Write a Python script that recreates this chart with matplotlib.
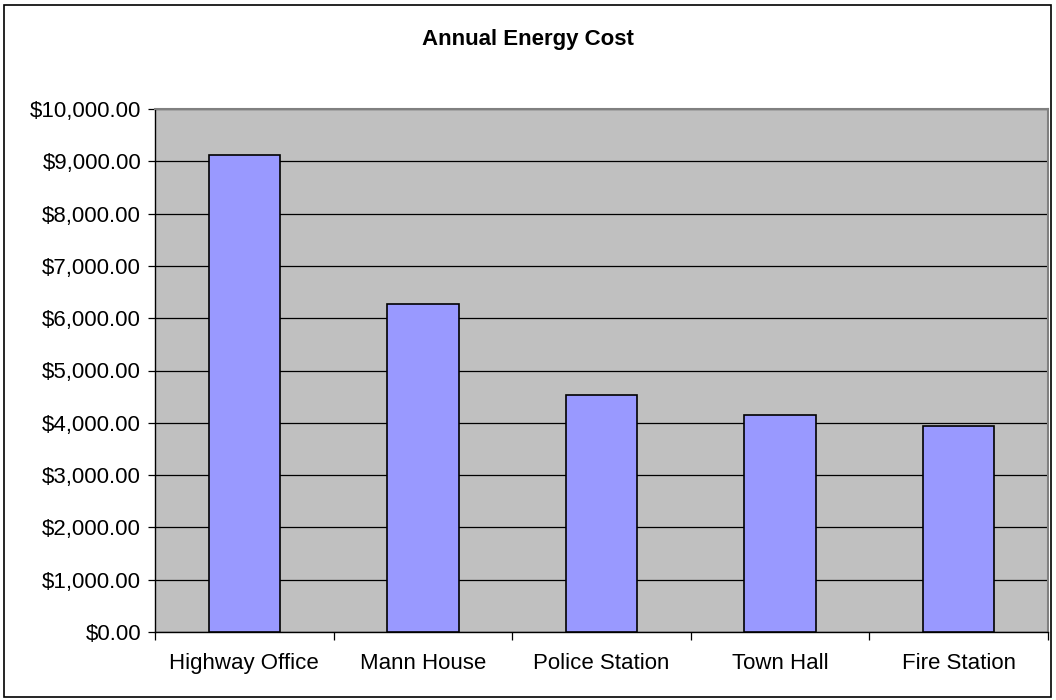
import numpy as np
import matplotlib.pyplot as plt
from matplotlib.patches import Rectangle
from matplotlib.ticker import FuncFormatter, FixedLocator

plt.rcParams['font.family'] = ['Liberation Sans', 'DejaVu Sans']

buildings = ["Highway Office", "Mann House", "Police Station", "Town Hall", "Fire Station"]
cost = [9130, 6280, 4540, 4140, 3930]

fig = plt.figure(figsize=(10.56, 7), dpi=100)
ax = fig.add_axes([155/1056, 1-632/700, (1048-155)/1056, (632-109)/700])

x = np.arange(len(buildings))
ax.bar(x, cost, width=0.4, color="#9999FF", edgecolor="black", linewidth=1.2, zorder=3)

ax.set_facecolor("#C0C0C0")
ax.set_xlim(-0.5, len(buildings)-0.5)
ax.set_ylim(0, 10000)
ax.set_yticks(np.arange(0, 10001, 1000))
ax.yaxis.set_major_formatter(FuncFormatter(lambda v, p: "${:,.2f}".format(v)))
ax.grid(axis="y", color="black", linewidth=0.9, zorder=1)

ax.set_xticks(x)
ax.set_xticklabels(buildings)
ax.xaxis.set_minor_locator(FixedLocator(np.arange(-0.5, len(buildings), 1.0)))
ax.tick_params(axis="x", which="major", length=0, pad=15, labelsize=16)
ax.tick_params(axis="x", which="minor", length=6, width=0.9, direction="out")
ax.tick_params(axis="y", length=5, width=0.9, labelsize=16, pad=5)

for s in ["left", "bottom"]:
    ax.spines[s].set_color("black")
    ax.spines[s].set_linewidth(1.0)
for s in ["top", "right"]:
    ax.spines[s].set_color("#808080")
    ax.spines[s].set_linewidth(1.5)

fig.text(0.5, 1-40/700, "Annual Energy Cost", ha="center", va="center",
         fontsize=16, fontweight="bold")

fig.patches.append(Rectangle((4/1056, 3/700), 1047/1056, 692/700, transform=fig.transFigure,
                             fill=False, edgecolor="black", linewidth=1.2))

fig.savefig("out.png", dpi=100)
